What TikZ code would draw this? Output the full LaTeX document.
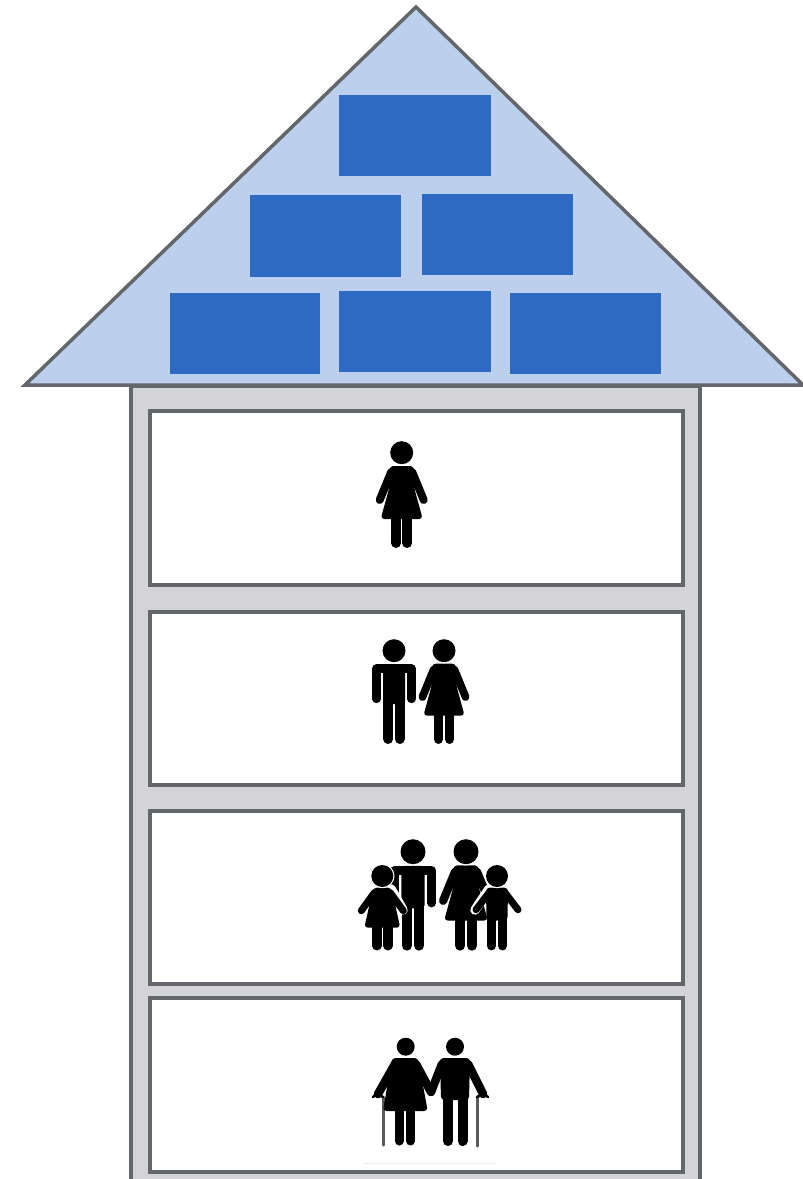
\documentclass[tikz,border=0pt]{standalone}
\usetikzlibrary{arrows.meta,positioning}
\definecolor{wallgray}{HTML}{D4D4D6}
\definecolor{edgegray}{HTML}{63666A}
\definecolor{roofblue}{HTML}{BCD0EE}
\definecolor{brickblue}{HTML}{2E69C4}
\tikzset{
  roof/.style ={draw=edgegray,fill=roofblue,line width=0.07cm,line join=miter},
  wall/.style ={draw=edgegray,fill=wallgray,line width=0.08cm},
  room/.style ={draw=edgegray,fill=white,line width=0.08cm},
  brick/.style={fill=brickblue},
  body/.style ={fill=black,rounded corners=2pt},
  limb/.style ={draw=black,line cap=round},
  cane/.style ={draw=black!65,line width=0.06cm,line cap=round},
}
% feet centre at (#1,#2), size #3
\newcommand{\womanfig}[3]{%
  \begin{scope}[shift={(#1,#2)},scale=#3]
    \fill[body] (-12,-82) -- (12,-82) -- (12.5,-60) -- (21,-29) -- (-21,-29) -- (-12.5,-60) -- cycle;
    \draw[limb,line width=#3*0.16cm] (-10.5,-76) -- (-22,-48) (10.5,-76) -- (22,-48);
    \draw[limb,line width=#3*0.2cm] (-5.6,-31) -- (-5.6,-5) (5.6,-31) -- (5.6,-5);
  \end{scope}}
\newcommand{\manfig}[3]{%
  \begin{scope}[shift={(#1,#2)},scale=#3]
    \fill[body] (-11,-80) -- (11,-80) -- (11,-40) -- (-11,-40) -- cycle;
    \draw[limb,line width=#3*0.165cm,line join=round] (-17.5,-45) -- (-17.5,-75.5) -- (17.5,-75.5) -- (17.5,-45);
    \draw[limb,line width=#3*0.2cm] (-5.7,-42) -- (-5.7,-5) (5.7,-42) -- (5.7,-5);
  \end{scope}}
\begin{document}
\begin{tikzpicture}[x=0.02cm,y=-0.02cm]
  \useasboundingbox (0,0) rectangle (803,1179);
  % house
  \begin{scope}
    \clip (0,0) rectangle (803,1179);
    \draw[wall] (131,386) rectangle (700,1200);
    \draw[roof] (25,385) -- (416,7) -- (803,385) -- cycle;
  \end{scope}
  \foreach \xa/\ya/\xb/\yb in {339/95/491/176, 250/195/401/277, 422/194/573/275,
    170/293/320/374, 339/291/491/372, 510/293/661/374}
    \fill[brick] (\xa,\ya) rectangle (\xb,\yb);
  \foreach \ya/\yb in {411/585, 612/785, 811/984, 998/1172}
    \draw[room] (150,\ya) rectangle (683,\yb);
  % single, couple
  \womanfig{401.7}{548}{1}
  \manfig{394}{744}{1}
  \womanfig{444}{744}{0.98}
  % family
  \manfig{413}{950.7}{1.06}
  \womanfig{466}{950.7}{1.04}
  \draw[white,line width=0.19cm,line cap=round] (391,889) -- (403,910) (489,889) -- (475,910);
  \begin{scope}[shift={(382.3,950.7)}]
    \fill[body] (-9,-63) -- (9,-63) -- (18,-23) -- (-18,-23) -- cycle;
    \draw[limb,line width=0.14cm] (-8,-58) -- (-21,-40) (8,-58) -- (21,-40);
    \draw[limb,line width=0.19cm] (-5.5,-25) -- (-5.5,-5) (5.5,-25) -- (5.5,-5);
  \end{scope}
  \begin{scope}[shift={(497,950.7)}]
    \fill[body] (-11,-63) -- (11,-63) -- (10.5,-30) -- (-10.5,-30) -- cycle;
    \draw[limb,line width=0.14cm,line join=round] (-21,-41) -- (-8,-58) -- (8,-58) -- (21,-41);
    \draw[limb,line width=0.19cm] (-5.6,-32) -- (-5.6,-5) (5.6,-32) -- (5.6,-5);
  \end{scope}
  % elderly
  \draw[black!8,line width=0.02cm] (364,1163) -- (496,1163);
  \draw[cane] (383,1097) -- (383,1145);
  \draw[cane] (477,1097) -- (477,1146);
  \draw[limb,line width=0.05cm] (373,1097) -- (376,1094) -- (383,1097) (488,1097) -- (484,1094) -- (477,1097);
  \fill[body] (392,1058) -- (418,1058) -- (427.7,1111) -- (383,1111) -- cycle;
  \draw[limb,line width=0.17cm] (395,1064) -- (378,1094) (416,1064) -- (431,1092);
  \draw[limb,line width=0.18cm] (399,1108) -- (399,1141) (410.5,1108) -- (410.5,1141);
  \fill[body] (440,1058) -- (470,1058) -- (469,1100) -- (441,1100) -- cycle;
  \draw[limb,line width=0.17cm] (442,1064) -- (431,1092) (468,1064) -- (483,1094);
  \draw[limb,line width=0.2cm] (448,1095) -- (448,1141) (462.5,1095) -- (462.5,1141);
  % heads
  \foreach \x/\y/\r in {401.7/452.7/11.5, 394/650.7/11.5, 444/650.7/11.5,
    413/851.7/12.5, 466/851.7/12.5, 382.3/876/11, 497/876/11, 405.7/1046.7/9, 455/1046.7/9}{
    \fill[white] (\x,\y) circle (\r+1.2);
    \fill (\x,\y) circle (\r);
  }
\end{tikzpicture}
\end{document}
